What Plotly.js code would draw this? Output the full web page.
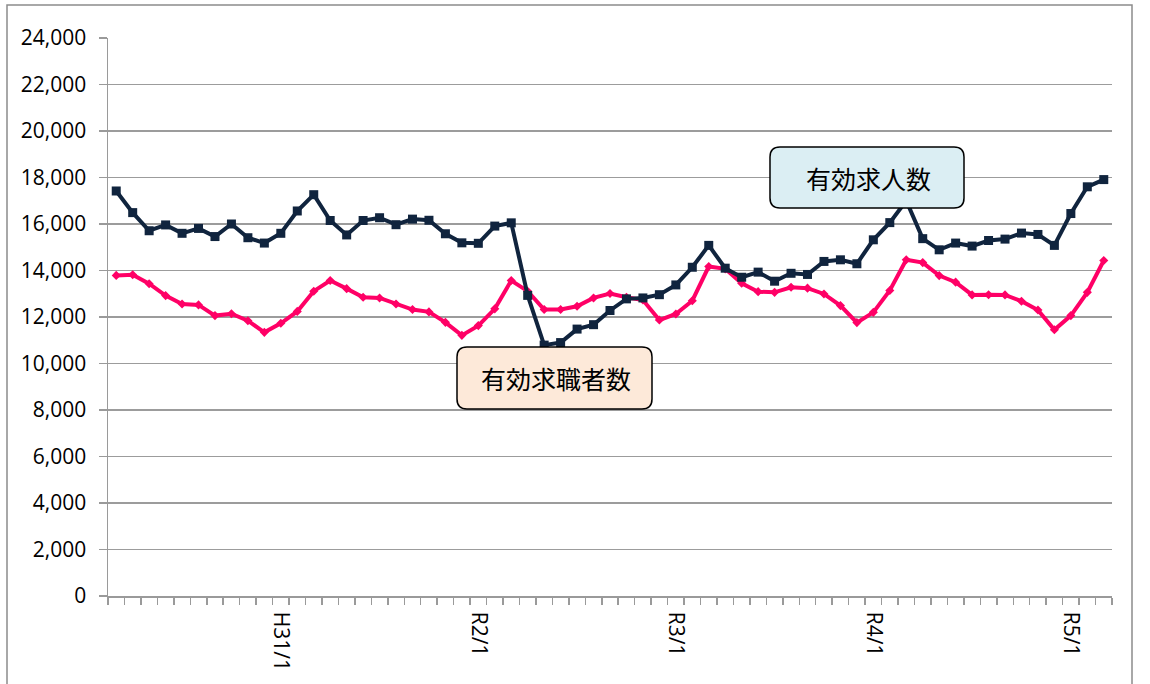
<!DOCTYPE html>
<html>
<head>
<meta charset="utf-8">
<script src="https://cdn.plot.ly/plotly-3.0.1.min.js"></script>
<style>html,body{margin:0;padding:0;background:#fff;}#chart{width:1150px;height:684px;}</style>
</head>
<body>
<div id="chart"></div>
<script>
const months = [
  "H30/3","H30/4","H30/5","H30/6","H30/7","H30/8","H30/9","H30/10","H30/11","H30/12",
  "H31/1","H31/2","H31/3","H31/4","R1/5","R1/6","R1/7","R1/8","R1/9","R1/10","R1/11","R1/12",
  "R2/1","R2/2","R2/3","R2/4","R2/5","R2/6","R2/7","R2/8","R2/9","R2/10","R2/11","R2/12",
  "R3/1","R3/2","R3/3","R3/4","R3/5","R3/6","R3/7","R3/8","R3/9","R3/10","R3/11","R3/12",
  "R4/1","R4/2","R4/3","R4/4","R4/5","R4/6","R4/7","R4/8","R4/9","R4/10","R4/11","R4/12",
  "R5/1","R5/2","R5/3"
];
const tickLabels = ["H31/1","R2/1","R3/1","R4/1","R5/1"];

const jobOffers = [
  17420,16490,15710,15960,15600,15810,15460,16000,15410,15180,
  15600,16560,17260,16150,15530,16150,16270,15970,16210,16160,15580,15190,
  15170,15910,16050,12930,10790,10900,11480,11670,12280,12780,12820,12960,
  13380,14140,15080,14100,13710,13930,13540,13880,13830,14390,14460,14290,
  15320,16060,17000,15370,14890,15180,15050,15290,15350,15610,15550,15080,
  16450,17600,17910
];
const jobSeekers = [
  13790,13820,13430,12920,12560,12520,12060,12140,11840,11340,
  11730,12240,13110,13570,13220,12850,12820,12560,12320,12220,11770,11210,
  11630,12350,13570,13110,12320,12320,12460,12820,13010,12850,12730,11870,
  12130,12700,14170,14070,13450,13090,13060,13280,13240,12990,12490,11760,
  12200,13140,14460,14340,13780,13500,12950,12960,12950,12680,12300,11450,
  12060,13060,14430
];
const seriesNames = ["有効求人数","有効求職者数"];

const xIdx = months.map((m, i) => i);
const tickIdx = tickLabels.map(t => months.indexOf(t));

const W = 1150, H = 684, ML = 108, MR = 38, MT = 38, MB = 88;
const PW = W - ML - MR, PH = H - MT - MB;
function px(x) { return (x - ML) / PW; }
function py(y) { return (H - MB - y) / PH; }
function roundRect(x0, y0, x1, y1, r) {
  const p = (x, y) => px(x).toFixed(5) + "," + py(y).toFixed(5);
  return "M" + p(x0 + r, y0) + " L" + p(x1 - r, y0) + " Q" + p(x1, y0) + " " + p(x1, y0 + r) +
    " L" + p(x1, y1 - r) + " Q" + p(x1, y1) + " " + p(x1 - r, y1) +
    " L" + p(x0 + r, y1) + " Q" + p(x0, y1) + " " + p(x0, y1 - r) +
    " L" + p(x0, y0 + r) + " Q" + p(x0, y0) + " " + p(x0 + r, y0) + " Z";
}

const traces = [
  {
    x: xIdx, y: jobSeekers, name: seriesNames[1], type: "scatter", mode: "lines+markers",
    line: {color: "#FF0066", width: 4}, marker: {symbol: "diamond", size: 7, color: "#FF0066"},
    hoverinfo: "skip"
  },
  {
    x: xIdx, y: jobOffers, name: seriesNames[0], type: "scatter", mode: "lines+markers",
    line: {color: "#10243E", width: 4}, marker: {symbol: "square", size: 9, color: "#10243E"},
    hoverinfo: "skip"
  }
];

const tickFont = {family: "Open Sans, Liberation Sans, sans-serif", size: 21, color: "#000"};
const cjkFont = {family: "Noto Sans CJK JP", size: 25, color: "#000"};

const layout = {
  width: W, height: H,
  margin: {l: ML, r: MR, t: MT, b: MB},
  paper_bgcolor: "#fff", plot_bgcolor: "#fff",
  showlegend: false,
  xaxis: {
    range: [-0.5, months.length - 0.5],
    tickmode: "array", tickvals: tickIdx, ticktext: tickLabels,
    ticks: "", tickangle: 90, tickfont: tickFont,
    showgrid: false, zeroline: false,
    showline: true, linecolor: "#9a9a9a", linewidth: 1.5,
    minor: {tickmode: "linear", tick0: -0.5, dtick: 1, ticks: "outside", ticklen: 7, tickcolor: "#9a9a9a", tickwidth: 1.5, showgrid: false},
    ticklabelstandoff: 10,
    fixedrange: true
  },
  yaxis: {
    range: [0, 24000], tickmode: "linear", tick0: 0, dtick: 2000,
    tickformat: ",d", tickfont: tickFont,
    showgrid: true, gridcolor: "#9c9c9c", gridwidth: 1.5,
    zeroline: false, showline: true, linecolor: "#9a9a9a", linewidth: 1.5,
    ticks: "outside", ticklen: 8, tickcolor: "#9a9a9a", tickwidth: 1.5,
    ticklabelstandoff: 8,
    fixedrange: true
  },
  shapes: [
    {type: "rect", xref: "paper", yref: "paper", x0: px(7), x1: px(1132), y0: py(5), y1: py(695),
     line: {color: "#8c8c8c", width: 1.5}, fillcolor: "rgba(0,0,0,0)", layer: "below"},
    {type: "path", xref: "paper", yref: "paper", path: roundRect(770, 147, 964, 208, 10),
     fillcolor: "#DBEEF3", line: {color: "#000", width: 1.5}, layer: "above"},
    {type: "path", xref: "paper", yref: "paper", path: roundRect(457, 347, 652, 409, 10),
     fillcolor: "#FDE9D9", line: {color: "#000", width: 1.5}, layer: "above"}
  ],
  annotations: [
    {xref: "paper", yref: "paper", x: px(868), y: py(178), text: seriesNames[0], showarrow: false,
     font: cjkFont, xanchor: "center", yanchor: "middle"},
    {xref: "paper", yref: "paper", x: px(556), y: py(378), text: seriesNames[1], showarrow: false,
     font: cjkFont, xanchor: "center", yanchor: "middle"}
  ]
};

Plotly.newPlot("chart", traces, layout, {displayModeBar: false, staticPlot: true});
</script>
</body>
</html>
